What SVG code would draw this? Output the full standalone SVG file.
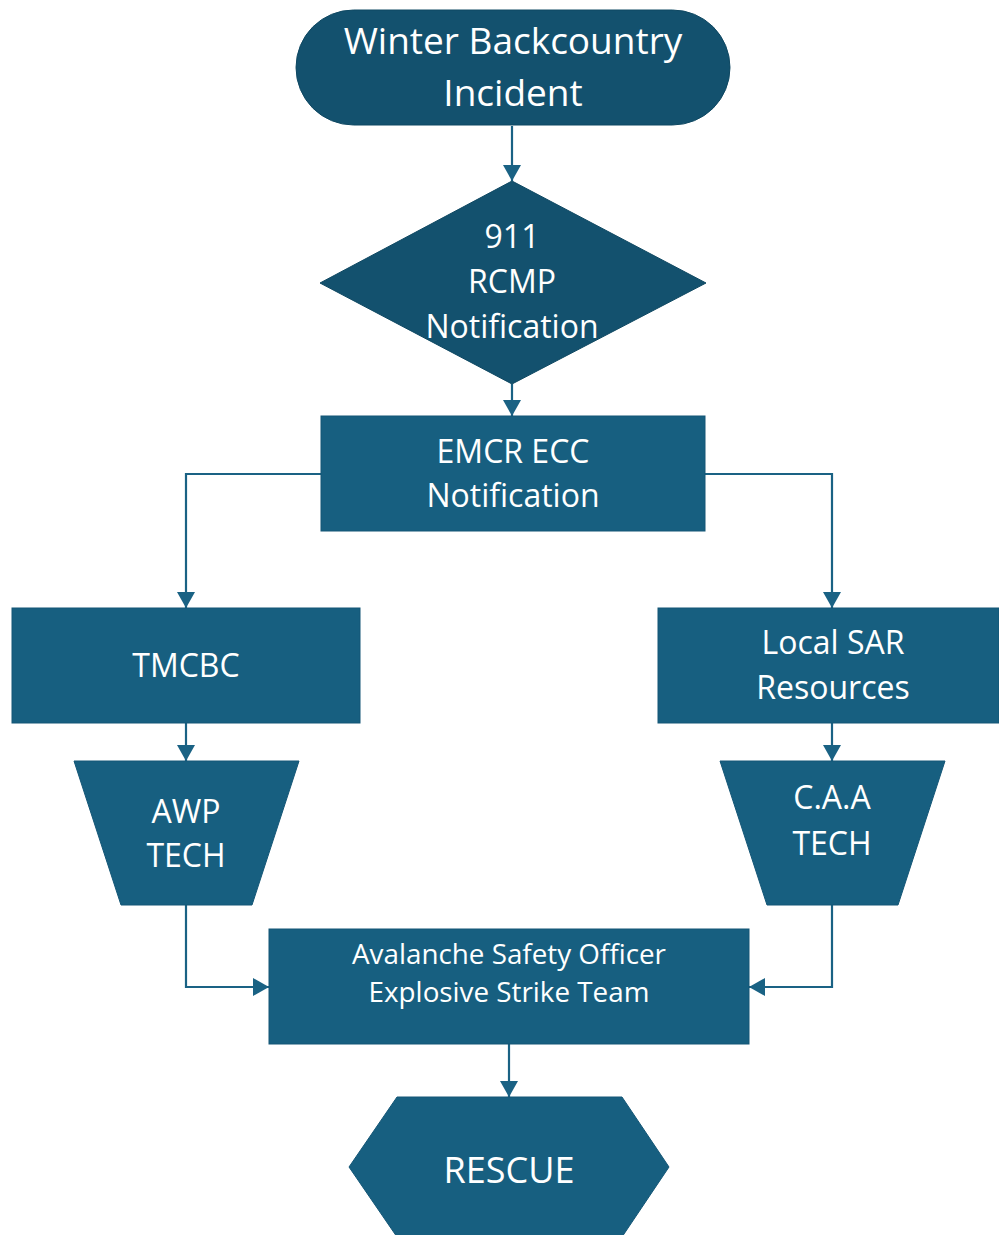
<svg xmlns="http://www.w3.org/2000/svg" width="999" height="1235" viewBox="0 0 999 1235">
<style>
.dark{fill:#13516e;stroke:#0f4862;stroke-width:1}
.box{fill:#175f80;stroke:#145676;stroke-width:1}
.t{font-family:"Open Sans","Liberation Sans",sans-serif;fill:#ffffff;text-anchor:middle}
.conn{fill:none;stroke:#1a6284;stroke-width:2.2}
</style>
<defs>
<marker id="ah" markerUnits="userSpaceOnUse" markerWidth="17" markerHeight="18" refX="16" refY="9" orient="auto">
<path d="M0,0 L16,9 L0,18 z" fill="#1a6284"/>
</marker>
</defs>
<rect width="999" height="1235" fill="#ffffff"/>
<g id="connectors">
<path class="conn" d="M512,126 V181" marker-end="url(#ah)"/>
<path class="conn" d="M512,384 V416" marker-end="url(#ah)"/>
<path class="conn" d="M321,474 H186 V608" marker-end="url(#ah)"/>
<path class="conn" d="M705,474 H832 V608" marker-end="url(#ah)"/>
<path class="conn" d="M186,723 V761" marker-end="url(#ah)"/>
<path class="conn" d="M832,723 V761" marker-end="url(#ah)"/>
<path class="conn" d="M186,905 V987 H269" marker-end="url(#ah)"/>
<path class="conn" d="M832,905 V987 H749" marker-end="url(#ah)"/>
<path class="conn" d="M509,1044 V1097" marker-end="url(#ah)"/>
</g>
<g id="start">
<rect class="dark" x="296" y="10" width="434" height="115" rx="57.5"/>
<text class="t" x="513" y="54" font-size="37">Winter Backcountry</text>
<text class="t" x="513" y="106" font-size="37">Incident</text>
</g>
<g id="rcmp">
<polygon class="dark" points="512,181 706,283 512,384 320,283"/>
<text class="t" x="512" y="248" font-size="32">911</text>
<text class="t" x="512" y="293" font-size="32">RCMP</text>
<text class="t" x="512" y="338" font-size="32">Notification</text>
</g>
<g id="emcr">
<rect class="box" x="321" y="416" width="384" height="115"/>
<text class="t" x="513" y="463" font-size="32">EMCR ECC</text>
<text class="t" x="513" y="507" font-size="32">Notification</text>
</g>
<g id="tmcbc">
<rect class="box" x="12" y="608" width="348" height="115"/>
<text class="t" x="186" y="677" font-size="32">TMCBC</text>
</g>
<g id="localsar">
<rect class="box" x="658" y="608" width="341" height="115"/>
<text class="t" x="833" y="654" font-size="32">Local SAR</text>
<text class="t" x="833" y="699" font-size="32">Resources</text>
</g>
<g id="awp">
<polygon class="box" points="74,761 299,761 252,905 121,905"/>
<text class="t" x="186" y="823" font-size="32">AWP</text>
<text class="t" x="186" y="867" font-size="32">TECH</text>
</g>
<g id="caa">
<polygon class="box" points="720,761 945,761 898,905 767,905"/>
<text class="t" x="832" y="809" font-size="32">C.A.A</text>
<text class="t" x="832" y="855" font-size="32">TECH</text>
</g>
<g id="aso">
<rect class="box" x="269" y="929" width="480" height="115"/>
<text class="t" x="509" y="964" font-size="27.8">Avalanche Safety Officer</text>
<text class="t" x="509" y="1002" font-size="27.8">Explosive Strike Team</text>
</g>
<g id="rescue">
<polygon class="box" points="397,1097 622,1097 669,1167 622,1237 397,1237 349,1167"/>
<text class="t" x="509" y="1183" font-size="36">RESCUE</text>
</g>
</svg>
